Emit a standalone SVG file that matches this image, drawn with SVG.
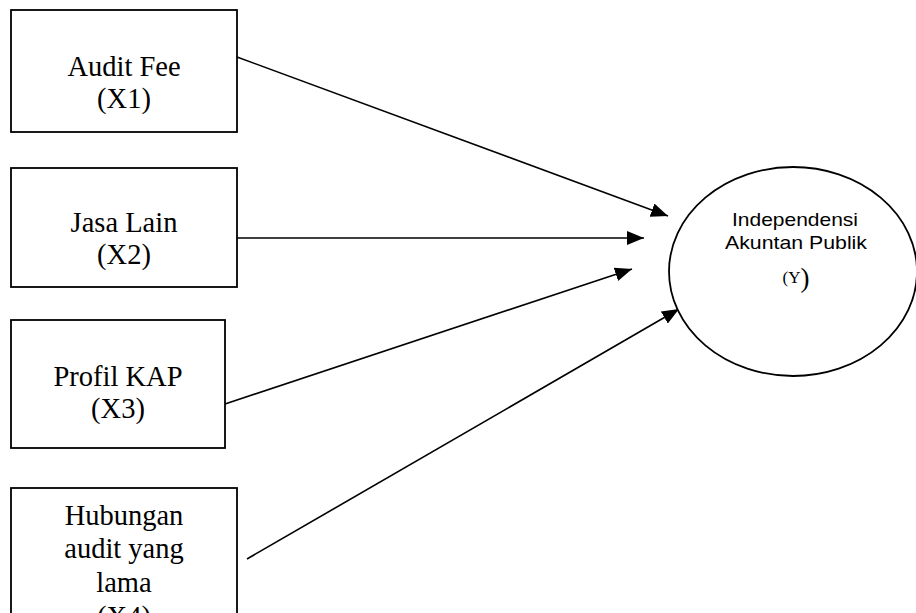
<svg xmlns="http://www.w3.org/2000/svg" width="916" height="613" viewBox="0 0 916 613">
<style>
.box{fill:#fff;stroke:#000;stroke-width:1.8}
.lbl{font-family:"Liberation Serif","Times New Roman",serif;font-size:28.5px;fill:#000;text-anchor:middle}
.sans{font-family:"Liberation Sans",Arial,sans-serif;font-size:19px;fill:#000;text-anchor:middle}
.conn{stroke:#000;stroke-width:1.6;fill:none;marker-end:url(#ah)}
</style>
<defs>
<marker id="ah" markerUnits="userSpaceOnUse" markerWidth="17" markerHeight="14" refX="17" refY="7" orient="auto">
<path d="M0,0 L17,7 L0,14 z" fill="#000"/>
</marker>
</defs>
<rect width="916" height="613" fill="#fff"/>
<g id="connectors">
<line class="conn" x1="237" y1="57" x2="668" y2="216"/>
<line class="conn" x1="237" y1="238" x2="644" y2="238"/>
<line class="conn" x1="225" y1="404" x2="632" y2="269"/>
<line class="conn" x1="247" y1="559" x2="679" y2="309"/>
</g>
<g id="x1">
<rect class="box" x="11" y="10" width="226" height="122"/>
<text class="lbl" x="124" y="76">Audit Fee</text>
<text class="lbl" x="124" y="108">(X1)</text>
</g>
<g id="x2">
<rect class="box" x="11" y="168" width="226" height="119"/>
<text class="lbl" x="124" y="232">Jasa Lain</text>
<text class="lbl" x="124" y="264">(X2)</text>
</g>
<g id="x3">
<rect class="box" x="11" y="320" width="214" height="128"/>
<text class="lbl" x="118" y="386">Profil KAP</text>
<text class="lbl" x="118" y="418">(X3)</text>
</g>
<g id="x4">
<rect class="box" x="11" y="488" width="226" height="160"/>
<text class="lbl" x="124" y="525">Hubungan</text>
<text class="lbl" x="124" y="558">audit yang</text>
<text class="lbl" x="124" y="592">lama</text>
<text class="lbl" x="124" y="626">(X4)</text>
</g>
<g id="y">
<ellipse cx="793" cy="271.5" rx="124" ry="104.5" fill="#fff" stroke="#000" stroke-width="1.8"/>
<text class="sans" x="795" y="226" textLength="126" lengthAdjust="spacingAndGlyphs">Independensi</text>
<text class="sans" x="796" y="249" textLength="142" lengthAdjust="spacingAndGlyphs">Akuntan Publik</text>
<text x="796" y="283" font-family="'Liberation Serif','Times New Roman',serif" text-anchor="middle" fill="#000"><tspan font-size="17">(Y</tspan><tspan font-size="27" dy="4">)</tspan></text>
</g>
</svg>
